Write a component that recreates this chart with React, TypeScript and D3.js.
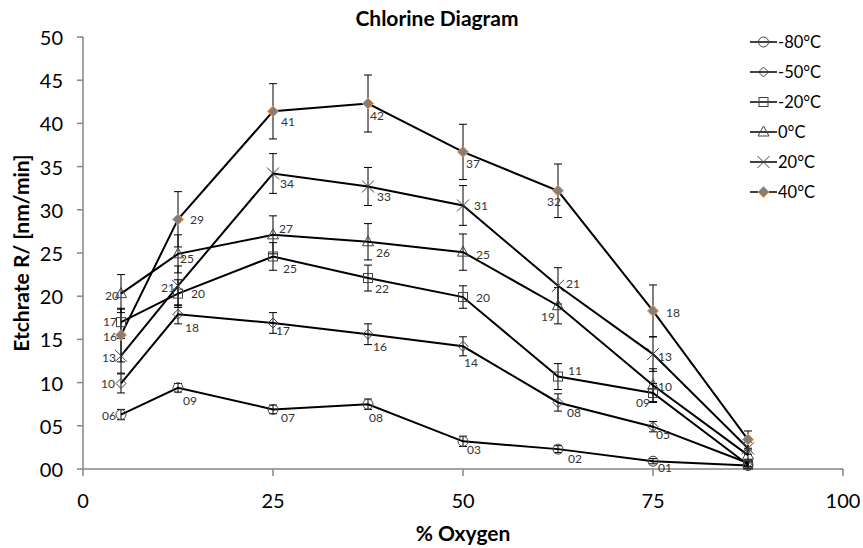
import React from "react";
import * as d3 from "d3";

// x values (% oxygen) shared by all series
const oxygen = [5, 12.5, 25, 37.5, 50, 62.5, 75, 87.5];

const seriesNames = ["-80°C", "-50°C", "-20°C", "0°C", "20°C", "40°C"];

// etch rate values per temperature
const m80 = [6.3, 9.4, 6.9, 7.5, 3.2, 2.3, 0.9, 0.4];
const m50 = [9.9, 17.9, 16.9, 15.6, 14.2, 7.7, 4.9, 0.7];
const m20 = [17.0, 20.3, 24.6, 22.1, 19.9, 10.7, 8.8, 0.5];
const z0 = [20.3, 24.9, 27.1, 26.3, 25.1, 18.9, 9.7, 1.6];
const p20 = [13.1, 21.2, 34.2, 32.7, 30.5, 21.2, 13.3, 2.4];
const p40 = [15.5, 28.9, 41.4, 42.3, 36.7, 32.2, 18.3, 3.4];

// error bar half-heights
const e80 = [0.6, 0.5, 0.5, 0.6, 0.6, 0.4, 0.3, 0.3];
const e50 = [1.1, 1.1, 1.2, 1.2, 1.1, 1.0, 0.6, 0.4];
const e20 = [1.5, 1.6, 1.6, 1.5, 1.3, 1.5, 1.1, 0.4];
const e0 = [2.2, 2.2, 2.2, 2.1, 2.1, 2.1, 1.9, 0.6];
const ep20 = [2.0, 2.3, 2.3, 2.2, 2.3, 2.1, 2.0, 0.7];
const ep40 = [3.1, 3.2, 3.2, 3.3, 3.2, 3.1, 3.0, 1.0];

const yTicks = [0, 5, 10, 15, 20, 25, 30, 35, 40, 45, 50];
const xTicks = [0, 25, 50, 75, 100];

// label placement (styling only): [dx, dy, anchor]
type LP = [number, number, string] | null;
const lab80: LP[] = [[-5, 1, "end"], [5, 13, "start"], [8, 8, "start"], [1, 13, "start"], [4, 8, "start"], [10, 9, "start"], [5, 6, "start"], null];
const lab50: LP[] = [[-6, 0, "end"], [7, 13, "start"], [3, 8, "start"], [5, 12, "start"], [1, 16, "start"], [9, 10, "start"], [3, 8, "start"], null];
const lab20: LP[] = [[-4, -1, "end"], [13, 0, "start"], [10, 12, "start"], [7, 10, "start"], [13, 0, "start"], [10, -6, "start"], [-3, 10, "end"], null];
const lab0: LP[] = [[-2, 2, "end"], [2, 5, "start"], [6, -6, "start"], [8, 11, "start"], [13, 2, "start"], [-3, 11, "end"], [5, 1, "start"], null];
const labP20: LP[] = [[-5, 2, "end"], [-3, 2, "end"], [7, 10, "start"], [9, 10, "start"], [11, 0, "start"], [8, -2, "start"], [5, 2, "start"], null];
const labP40: LP[] = [[-4, 1, "end"], [12, 0, "start"], [8, 10, "start"], [2, 12, "start"], [3, 12, "start"], [3, 11, "end"], [13, 2, "start"], null];

const values = [m80, m50, m20, z0, p20, p40];
const errors = [e80, e50, e20, e0, ep20, ep40];
const labels = [lab80, lab50, lab20, lab0, labP20, labP40];
const markerTypes = ["circle", "diamond", "square", "triangle", "cross", "filled"];

const FONT = "Lato, 'Open Sans', sans-serif";
const AXIS = "#868686";
const MK = "#404040";

function Marker({ type, x, y }: { type: string; x: number; y: number }) {
  if (type === "circle") return <circle cx={x} cy={y} r={5} fill="none" stroke={MK} strokeWidth={1} />;
  if (type === "diamond")
    return <path d={`M${x},${y - 5}L${x + 5},${y}L${x},${y + 5}L${x - 5},${y}Z`} fill="none" stroke={MK} strokeWidth={1} />;
  if (type === "square") return <rect x={x - 4.5} y={y - 4.5} width={9} height={9} fill="none" stroke={MK} strokeWidth={1} />;
  if (type === "triangle")
    return <path d={`M${x},${y - 6}L${x + 5.5},${y + 4}L${x - 5.5},${y + 4}Z`} fill="none" stroke={MK} strokeWidth={1} />;
  if (type === "cross")
    return <path d={`M${x - 6},${y - 6}L${x + 6},${y + 6}M${x - 6},${y + 6}L${x + 6},${y - 6}`} stroke={MK} strokeWidth={1} />;
  return (
    <path d={`M${x},${y - 5.5}L${x + 5.5},${y}L${x},${y + 5.5}L${x - 5.5},${y}Z`} fill="#7f7f7f" stroke="#f79646" strokeWidth={1} />
  );
}

export default function App() {
  const width = 863;
  const height = 548;
  const x = d3.scaleLinear().domain([0, 100]).range([83, 843]);
  const y = d3.scaleLinear().domain([0, 50]).range([469, 37]);
  const fmt = d3.format("02d");

  const line = d3
    .line<number>()
    .x((d, i) => x(oxygen[i]))
    .y((d) => y(d));

  return (
    <svg width={width} height={height} style={{ position: "absolute", left: 0, top: 0, background: "#fff" }} fontFamily={FONT}>
      {/* title */}
      <text x={437} y={17} textAnchor="middle" dominantBaseline="central" fontSize={21} fontWeight="bold">
        Chlorine Diagram
      </text>

      {/* axes */}
      <line x1={x(0)} x2={x(0)} y1={y(50)} y2={y(0)} stroke={AXIS} strokeWidth={1.5} />
      <line x1={x(0)} x2={x(100)} y1={y(0)} y2={y(0)} stroke={AXIS} strokeWidth={1.5} />
      {yTicks.map((t) => (
        <g key={"y" + t}>
          <line x1={x(0) - 6} x2={x(0)} y1={y(t)} y2={y(t)} stroke={AXIS} strokeWidth={1.5} />
          <text x={63} y={y(t)} textAnchor="end" dominantBaseline="central" fontSize={20} fill="#000">
            {fmt(t)}
          </text>
        </g>
      ))}
      {xTicks.map((t) => (
        <g key={"x" + t}>
          <line x1={x(t)} x2={x(t)} y1={y(0)} y2={y(0) + 7} stroke={AXIS} strokeWidth={1.5} />
          <text x={x(t)} y={500} textAnchor="middle" dominantBaseline="central" fontSize={20} fill="#000">
            {t}
          </text>
        </g>
      ))}

      <text x={463} y={532} textAnchor="middle" dominantBaseline="central" fontSize={21} fontWeight="bold">
        % Oxygen
      </text>
      <text
        transform={`translate(20,253) rotate(-90)`}
        textAnchor="middle"
        dominantBaseline="central"
        fontSize={21}
        fontWeight="bold"
      >
        Etchrate R/ [nm/min]
      </text>

      {/* series lines */}
      {values.map((vals, s) => (
        <path key={"l" + s} d={line(vals) || ""} fill="none" stroke="#000" strokeWidth={2} />
      ))}

      {/* error bars */}
      {values.map((vals, s) =>
        vals.map((v, i) => {
          const cx = x(oxygen[i]);
          const top = y(v + errors[s][i]);
          const bot = y(v - errors[s][i]);
          return (
            <g key={`e${s}-${i}`} stroke="#000" strokeWidth={1}>
              <line x1={cx} x2={cx} y1={top} y2={bot} />
              <line x1={cx - 4} x2={cx + 4} y1={top} y2={top} />
              <line x1={cx - 4} x2={cx + 4} y1={bot} y2={bot} />
            </g>
          );
        })
      )}

      {/* markers */}
      {values.map((vals, s) =>
        vals.map((v, i) => <Marker key={`m${s}-${i}`} type={markerTypes[s]} x={x(oxygen[i])} y={y(v)} />)
      )}

      {/* data labels */}
      {values.map((vals, s) =>
        vals.map((v, i) => {
          const lp = labels[s][i];
          if (!lp) return null;
          return (
            <text
              key={`t${s}-${i}`}
              x={x(oxygen[i]) + lp[0]}
              y={y(v) + lp[1]}
              textAnchor={lp[2]}
              dominantBaseline="central"
              fontSize={12}
              fill="#333"
            >
              {fmt(Math.round(v))}
            </text>
          );
        })
      )}

      {/* legend */}
      {seriesNames.map((name, s) => {
        const ly = 42 + s * 30;
        return (
          <g key={"lg" + s}>
            <line x1={750} x2={777} y1={ly} y2={ly} stroke="#000" strokeWidth={1.5} />
            <Marker type={markerTypes[s]} x={763.5} y={ly} />
            <text x={778} y={ly} dominantBaseline="central" fontSize={16.5} fill="#000">
              {name}
            </text>
          </g>
        );
      })}
    </svg>
  );
}
